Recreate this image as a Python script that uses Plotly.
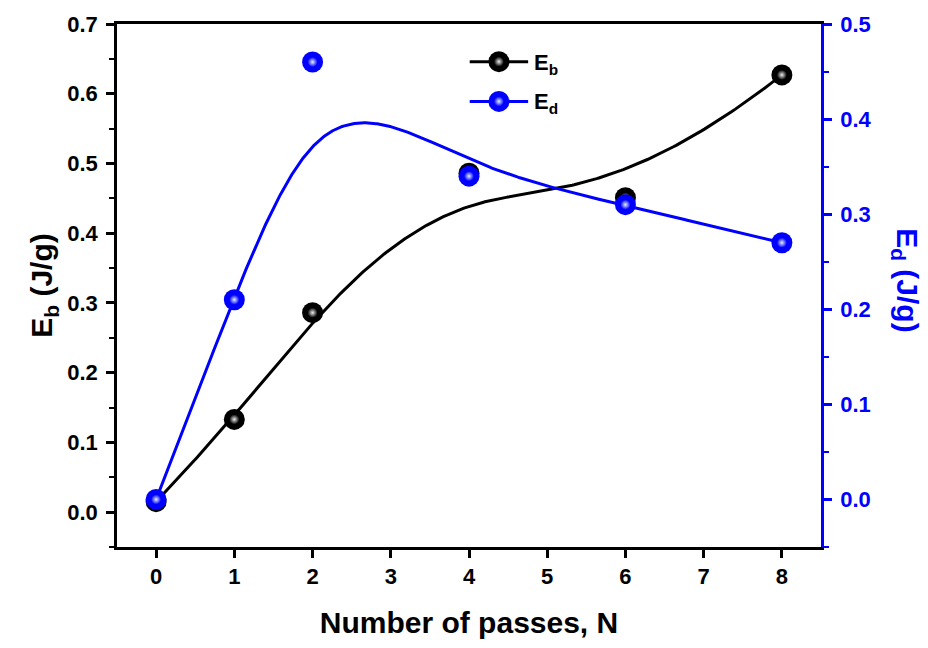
import numpy as np
import plotly.graph_objects as go

# Number of ECAP passes and measured energies
passes = [0, 1, 2, 4, 6, 8]
eb_values = [0.015, 0.133, 0.286, 0.486, 0.451, 0.627]   # E_b (J/g), left axis
ed_values = [0.0, 0.210, 0.460, 0.340, 0.310, 0.270]     # E_d (J/g), right axis

x_ticks = [0, 1, 2, 3, 4, 5, 6, 7, 8]
left_ticks = [0.0, 0.1, 0.2, 0.3, 0.4, 0.5, 0.6, 0.7]
right_ticks = [0.0, 0.1, 0.2, 0.3, 0.4, 0.5]

BLUE = "#0000ff"
FONT = "Liberation Sans, Arial, sans-serif"


def bspline(xs, ys, degree=3, samples=400):
    """Clamped uniform B-spline using the given points as control points."""
    pts = np.column_stack([xs, ys]).astype(float)
    n = len(pts)
    inner = n - degree - 1
    knots = np.concatenate([np.zeros(degree + 1),
                            np.arange(1, inner + 1) / (inner + 1),
                            np.ones(degree + 1)])
    t = np.linspace(0, 1, samples)

    def basis(i, k, u):
        if k == 0:
            if knots[i + 1] == 1.0 and knots[i] < 1.0:
                return ((u >= knots[i]) & (u <= knots[i + 1])).astype(float)
            return ((u >= knots[i]) & (u < knots[i + 1])).astype(float)
        out = np.zeros_like(u)
        d1 = knots[i + k] - knots[i]
        d2 = knots[i + k + 1] - knots[i + 1]
        if d1 > 0:
            out += (u - knots[i]) / d1 * basis(i, k - 1, u)
        if d2 > 0:
            out += (knots[i + k + 1] - u) / d2 * basis(i + 1, k - 1, u)
        return out

    B = np.array([basis(i, degree, t) for i in range(n)])
    curve = B.T @ pts
    return curve[:, 0], curve[:, 1]


eb_cx, eb_cy = bspline(passes, eb_values)
ed_cx, ed_cy = bspline(passes, ed_values)

fig = go.Figure()

# smoothed connecting curves
fig.add_trace(go.Scatter(x=eb_cx, y=eb_cy, mode="lines",
                         line=dict(color="black", width=3),
                         showlegend=False, hoverinfo="skip"))
fig.add_trace(go.Scatter(x=ed_cx, y=ed_cy, mode="lines", yaxis="y2",
                         line=dict(color=BLUE, width=3),
                         showlegend=False, hoverinfo="skip"))


def ball(x, y, base, shine, xaxis="x", yaxis="y", name=None):
    """Shaded sphere markers: a solid disc plus a small radial highlight."""
    return [
        go.Scatter(x=x, y=y, mode="markers", xaxis=xaxis, yaxis=yaxis, name=name,
                   marker=dict(size=21, color=base, line=dict(width=0)),
                   showlegend=False),
        go.Scatter(x=x, y=y, mode="markers", xaxis=xaxis, yaxis=yaxis,
                   marker=dict(size=10, color=base, line=dict(width=0),
                               gradient=dict(type="radial", color=shine)),
                   showlegend=False, hoverinfo="skip"),
    ]


EB_SHINE = "#eeeeee"
ED_SHINE = "#e4f2ff"

for tr in ball(passes, eb_values, "black", EB_SHINE, name="E_b"):
    fig.add_trace(tr)
for tr in ball(passes, ed_values, BLUE, ED_SHINE, yaxis="y2", name="E_d"):
    fig.add_trace(tr)

# legend key, drawn on a fixed 0..1 overlay frame
legend_rows = [("<b>E<sub>b</sub></b>", "black", EB_SHINE, 0.928),
               ("<b>E<sub>d</sub></b>", BLUE, ED_SHINE, 0.852)]
key_x0, key_x1, key_mid, text_x = 0.501, 0.584, 0.5425, 0.590
shapes, annotations = [], []
for label, col, shine, ky in legend_rows:
    shapes.append(dict(type="line", xref="paper", yref="paper", layer="below",
                       x0=key_x0, x1=key_x1, y0=ky, y1=ky,
                       line=dict(color=col, width=3)))
    for tr in ball([key_mid], [ky], col, shine, xaxis="x3", yaxis="y3"):
        tr.hoverinfo = "skip"
        fig.add_trace(tr)
    annotations.append(dict(text=label, xref="paper", yref="paper", x=text_x, y=ky,
                            xanchor="left", yanchor="middle", yshift=-2, showarrow=False,
                            font=dict(family=FONT, size=22, color="black")))

annotations.append(dict(text="<b>E<sub>d</sub> (J/g)</b>", xref="paper", yref="paper",
                        x=1.15, y=0.51, textangle=90, showarrow=False,
                        font=dict(family=FONT, size=30, color=BLUE)))

tick_font = dict(family=FONT, size=22, color="black", weight="bold")
title_font = dict(family=FONT, size=30, color="black", weight="bold")

fig.update_layout(
    width=928, height=648,
    margin=dict(l=117, r=107, t=20, b=101),
    paper_bgcolor="white", plot_bgcolor="white",
    font=dict(family=FONT),
    showlegend=False,
    xaxis=dict(range=[-0.5, 8.5], tickvals=x_ticks, ticks="outside", ticklen=8,
               tickwidth=2.5, tickcolor="black", showline=True, linewidth=2.5,
               linecolor="black", mirror=True, showgrid=False, zeroline=False,
               tickfont=tick_font,
               title=dict(text="Number of passes, N", font=title_font, standoff=24)),
    yaxis=dict(range=[-0.05, 0.7], tickvals=left_ticks, ticktext=[f"{v:.1f}" for v in left_ticks],
               ticks="outside", ticklen=8, tickwidth=2.5, tickcolor="black",
               showline=True, linewidth=2.5, linecolor="black", showgrid=False,
               zeroline=False, tickfont=tick_font, ticklabelstandoff=4,
               minor=dict(dtick=0.05, tick0=0, ticks="outside", ticklen=5,
                          tickwidth=2, tickcolor="black"),
               title=dict(text="<b>E<sub>b</sub> (J/g)</b>", font=title_font, standoff=6)),
    yaxis2=dict(range=[-0.05, 0.5], tickvals=right_ticks, ticktext=[f"{v:.1f}" for v in right_ticks],
                overlaying="y", side="right", ticks="outside", ticklen=8,
                tickwidth=2.5, tickcolor=BLUE, showline=True, linewidth=2.5,
                linecolor=BLUE, showgrid=False, zeroline=False, ticklabelstandoff=4,
                tickfont=dict(family=FONT, size=22, color=BLUE, weight="bold"),
                minor=dict(dtick=0.05, tick0=0, ticks="outside", ticklen=5,
                           tickwidth=2, tickcolor=BLUE)),
    xaxis3=dict(overlaying="x", range=[0, 1], visible=False, fixedrange=True),
    yaxis3=dict(overlaying="y", range=[0, 1], visible=False, fixedrange=True),
    shapes=shapes,
    annotations=annotations,
)

fig.write_html("out.html")
